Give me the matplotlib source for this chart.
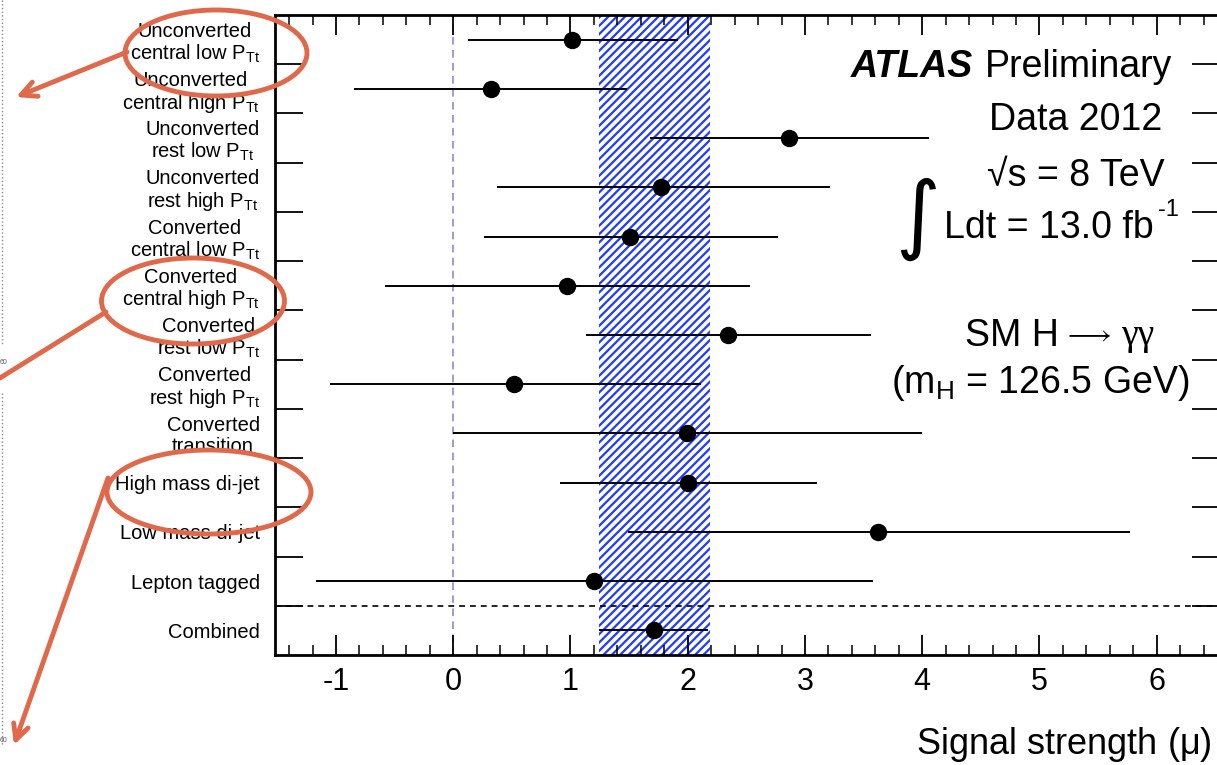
import matplotlib
matplotlib.use("Agg")
import matplotlib.pyplot as plt
from matplotlib.patches import Ellipse
import numpy as np

plt.rcParams['font.family'] = ['Liberation Sans', 'DejaVu Sans']
plt.rcParams['mathtext.default'] = 'regular'
plt.rcParams['hatch.linewidth'] = 1.6

# categories, top to bottom
categories = [
    "Unconverted\ncentral low $P_{Tt}$",
    "Unconverted\ncentral high $P_{Tt}$",
    "Unconverted\nrest low $P_{Tt}$",
    "Unconverted\nrest high $P_{Tt}$",
    "Converted\ncentral low $P_{Tt}$",
    "Converted\ncentral high $P_{Tt}$",
    "Converted\nrest low $P_{Tt}$",
    "Converted\nrest high $P_{Tt}$",
    "Converted\ntransition",
    "High mass di-jet",
    "Low mass di-jet",
    "Lepton tagged",
    "Combined",
]
mu = [1.01, 0.32, 2.86, 1.77, 1.51, 0.97, 2.34, 0.52, 1.99, 2.00, 3.62, 1.20, 1.71]
mu_lo = [0.13, -0.85, 1.68, 0.37, 0.26, -0.58, 1.13, -1.05, 0.00, 0.91, 1.49, -1.17, 1.24]
mu_hi = [1.92, 1.48, 4.06, 3.21, 2.77, 2.53, 3.56, 2.11, 4.00, 3.10, 5.77, 3.58, 2.17]
band = (1.24, 2.19)  # combined +-1 sigma

W, H = 1217, 765
fig = plt.figure(figsize=(W / 100, H / 100), dpi=100)
ax = fig.add_axes([275 / W, 1 - 655 / H, (1220 - 275) / W, 640 / H])

n = len(categories)
y = np.arange(n)
mu = np.array(mu)
xerr = [mu - np.array(mu_lo), np.array(mu_hi) - mu]

ax.axvspan(band[0], band[1], facecolor='none', edgecolor='#1f3bff', hatch='////', lw=0, zorder=1)
ax.axvline(0, color='#8282c2', ls=(0, (5, 3.5)), lw=1.1, zorder=1)
ax.axhline(n - 1.5, color='black', ls=(0, (3.5, 3)), lw=1.2, zorder=2)
ax.errorbar(mu, y, xerr=xerr, fmt='o', color='black', ms=11.5, elinewidth=1.4, capsize=0, zorder=3)

ax.set_xlim(-1.52, 6.54)
ax.set_ylim(n - 0.5, -0.5)

ax.set_xticks(np.arange(-1, 7))
ax.set_xticklabels([str(v) for v in range(-1, 7)])
ax.set_xticks(np.arange(-1.4, 6.6, 0.2), minor=True)
ax.tick_params(axis='x', which='major', direction='in', top=True, length=14.5, width=1.3, labelsize=22, pad=9)
ax.tick_params(axis='x', which='minor', direction='in', top=True, length=7, width=1.1)

ax.set_yticks(np.arange(n - 1) + 0.5)
ax.set_yticklabels([])
ax.set_yticks(y, minor=True)
ax.set_yticklabels(categories, minor=True)
ax.tick_params(axis='y', which='major', direction='in', right=True, length=20, width=1.3)
ax.tick_params(axis='y', which='minor', length=0, labelsize=14.5, pad=11)
for lab in ax.get_yticklabels(minor=True):
    lab.set_linespacing(1.1)
    lab.set_multialignment('center')

for s in ax.spines.values():
    s.set_linewidth(2)

# ATLAS labels
fs = 27
ax.text(4.43, 0.56, "ATLAS", ha='right', va='center', fontsize=fs, fontweight='bold', fontstyle='italic')
ax.text(6.13, 0.56, "Preliminary", ha='right', va='center', fontsize=fs)
ax.text(6.05, 1.63, "Data 2012", ha='right', va='center', fontsize=fs)
ax.text(6.07, 2.78, "\u221As = 8 TeV", ha='right', va='center', fontsize=fs)
ax.text(3.96, 3.66, "\u222b", ha='center', va='center', fontsize=62, family='DejaVu Sans')
ax.text(4.19, 3.82, "Ldt = 13.0 fb", ha='left', va='center', fontsize=fs)
ax.text(6.01, 3.46, "-1", ha='left', va='center', fontsize=17)
ax.text(5.17, 6.02, "SM H", ha='right', va='center', fontsize=fs)
ax.text(5.40, 6.0, r"$\longrightarrow$", ha='center', va='center', fontsize=20)
ax.text(5.98, 6.02, "\u03b3\u03b3", ha='right', va='center', fontsize=fs, family='Liberation Serif')
ax.text(6.28, 6.98, "(m$_{H}$ = 126.5 GeV)", ha='right', va='center', fontsize=fs)

fig.text(1212 / W, 1 - 745 / H, r"Signal strength ($\mu$)", ha='right', va='center', fontsize=26)

# hand-drawn highlight overlay (pixel coordinates)
ov = fig.add_axes([0, 0, 1, 1], zorder=10)
ov.set_xlim(0, W)
ov.set_ylim(H, 0)
ov.axis('off')
red = '#e0694b'
for cx, cy, ew, eh in [(216, 53, 182, 86), (193, 301, 183, 86), (209, 492, 204, 84)]:
    ov.add_patch(Ellipse((cx, cy), ew, eh, fill=False, edgecolor=red, lw=3.5))
arrow = dict(arrowstyle='->,head_length=1.1,head_width=0.55', color=red, lw=3.5, shrinkA=0, shrinkB=0)
ov.annotate("", xy=(16, 97), xytext=(127, 52), arrowprops=arrow)
ov.plot([106, 0], [312, 378], color=red, lw=3.5, solid_capstyle='round')
ov.annotate("", xy=(14, 745), xytext=(108, 478), arrowprops=arrow)
# edge of a neighbouring picture
ov.plot([2, 2], [0, 345], color='#888888', lw=1, ls=':')
ov.plot([2, 2], [393, 745], color='#888888', lw=1, ls=':')
ov.text(0, 362, "60", fontsize=5, color='#555555', va='center')
ov.text(0, 740, "60", fontsize=5, color='#555555', va='center')

fig.savefig("out.png", dpi=100)
